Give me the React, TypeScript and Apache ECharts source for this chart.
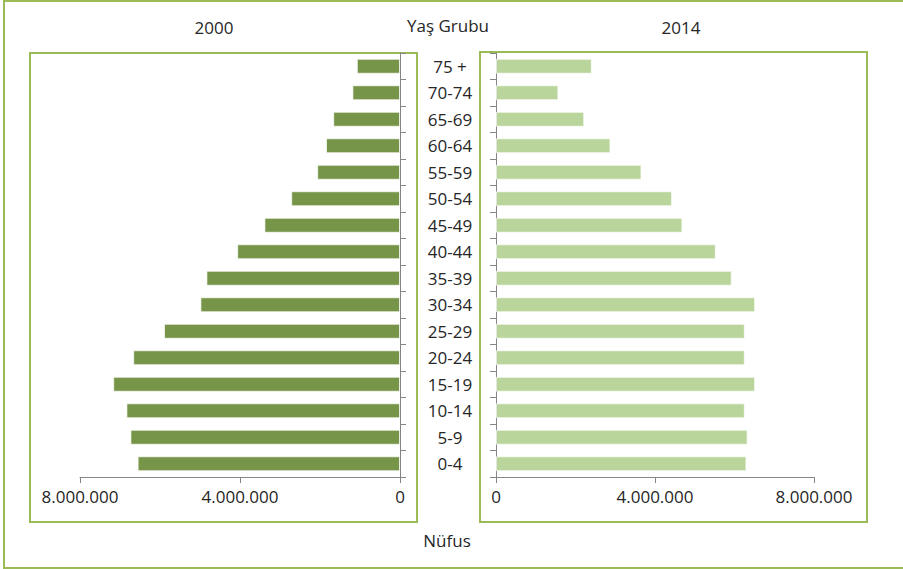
import React, { useEffect, useRef } from "react";
import * as echarts from "echarts";

const categories = ["0-4", "5-9", "10-14", "15-19", "20-24", "25-29", "30-34", "35-39", "40-44", "45-49", "50-54", "55-59", "60-64", "65-69", "70-74", "75 +"];
const values2000 = [6560000, 6740000, 6840000, 7170000, 6670000, 5900000, 4990000, 4840000, 4070000, 3390000, 2720000, 2070000, 1850000, 1670000, 1190000, 1080000];
const values2014 = [6300000, 6330000, 6260000, 6520000, 6260000, 6260000, 6520000, 5930000, 5530000, 4690000, 4430000, 3660000, 2880000, 2220000, 1570000, 2410000];
const titleLeft = "2000";
const titleRight = "2014";
const titleMiddle = "Yaş Grubu";
const axisName = "Nüfus";
const axisMax = 8000000;
const axisInterval = 4000000;

const FONT = "'Open Sans', 'Noto Sans', sans-serif";
const TEXT = "#262626";
const GREEN_BORDER = "#9BBB59";

function fmt(v: number): string {
  return String(Math.round(v)).replace(/\B(?=(\d{3})+(?!\d))/g, ".");
}

export default function App() {
  const ref = useRef<HTMLDivElement>(null);
  useEffect(() => {
    if (!ref.current) return;
    const chart = echarts.init(ref.current, undefined, { renderer: "svg" });
    const axisLine = { show: true, lineStyle: { color: "#868686", width: 1 } };
    const axisTick = { show: true, length: 6, lineStyle: { color: "#868686" } };
    chart.setOption({
      animation: false,
      backgroundColor: "#ffffff",
      textStyle: { fontFamily: FONT },
      grid: [
        { left: 80, top: 53, width: 320, height: 424, containLabel: false },
        { left: 496, top: 53, width: 318, height: 424, containLabel: false },
      ],
      xAxis: [
        {
          type: "value", gridIndex: 0, min: 0, max: axisMax, interval: axisInterval, inverse: true,
          axisLine, axisTick, splitLine: { show: false },
          axisLabel: { formatter: (v: number) => fmt(v), color: TEXT, fontSize: 17, fontFamily: FONT, margin: 11 },
        },
        {
          type: "value", gridIndex: 1, min: 0, max: axisMax, interval: axisInterval,
          axisLine, axisTick, splitLine: { show: false },
          axisLabel: { formatter: (v: number) => fmt(v), color: TEXT, fontSize: 17, fontFamily: FONT, margin: 11 },
        },
      ],
      yAxis: [
        {
          type: "category", gridIndex: 0, data: categories, position: "right",
          axisLine, axisTick, axisLabel: { show: false },
        },
        {
          type: "category", gridIndex: 1, data: categories, position: "left",
          axisLine, axisTick,
          axisLabel: { show: true, align: "center", margin: 46, color: TEXT, fontSize: 17, fontFamily: FONT },
        },
      ],
      series: [
        {
          type: "bar", name: titleLeft, xAxisIndex: 0, yAxisIndex: 0, data: values2000, barWidth: 15,
          itemStyle: { color: "#779548", borderColor: "rgba(255,255,255,0.7)", borderWidth: 1 },
        },
        {
          type: "bar", name: titleRight, xAxisIndex: 1, yAxisIndex: 1, data: values2014, barWidth: 15,
          itemStyle: { color: "#B9D59B", borderColor: "rgba(255,255,255,0.7)", borderWidth: 1 },
        },
      ],
      graphic: [
        { type: "rect", shape: { x: 4, y: 1, width: 910, height: 567 }, style: { fill: "none", stroke: GREEN_BORDER, lineWidth: 2 }, silent: true, z: -1 },
        { type: "rect", shape: { x: 30, y: 53, width: 387, height: 469 }, style: { fill: "none", stroke: GREEN_BORDER, lineWidth: 2 }, silent: true, z: -1 },
        { type: "rect", shape: { x: 480, y: 52, width: 387, height: 470 }, style: { fill: "none", stroke: GREEN_BORDER, lineWidth: 2 }, silent: true, z: -1 },
        { type: "text", x: 214, y: 27, style: { text: titleLeft, fill: TEXT, font: `17px ${FONT}`, align: "center", verticalAlign: "middle" } },
        { type: "text", x: 681, y: 27, style: { text: titleRight, fill: TEXT, font: `17px ${FONT}`, align: "center", verticalAlign: "middle" } },
        { type: "text", x: 448, y: 25, style: { text: titleMiddle, fill: TEXT, font: `17px ${FONT}`, align: "center", verticalAlign: "middle" } },
        { type: "text", x: 447, y: 540, style: { text: axisName, fill: TEXT, font: `17px ${FONT}`, align: "center", verticalAlign: "middle" } },
      ],
    });
    return () => chart.dispose();
  }, []);
  return <div ref={ref} style={{ position: "absolute", left: 0, top: 0, width: 903, height: 569 }} />;
}
